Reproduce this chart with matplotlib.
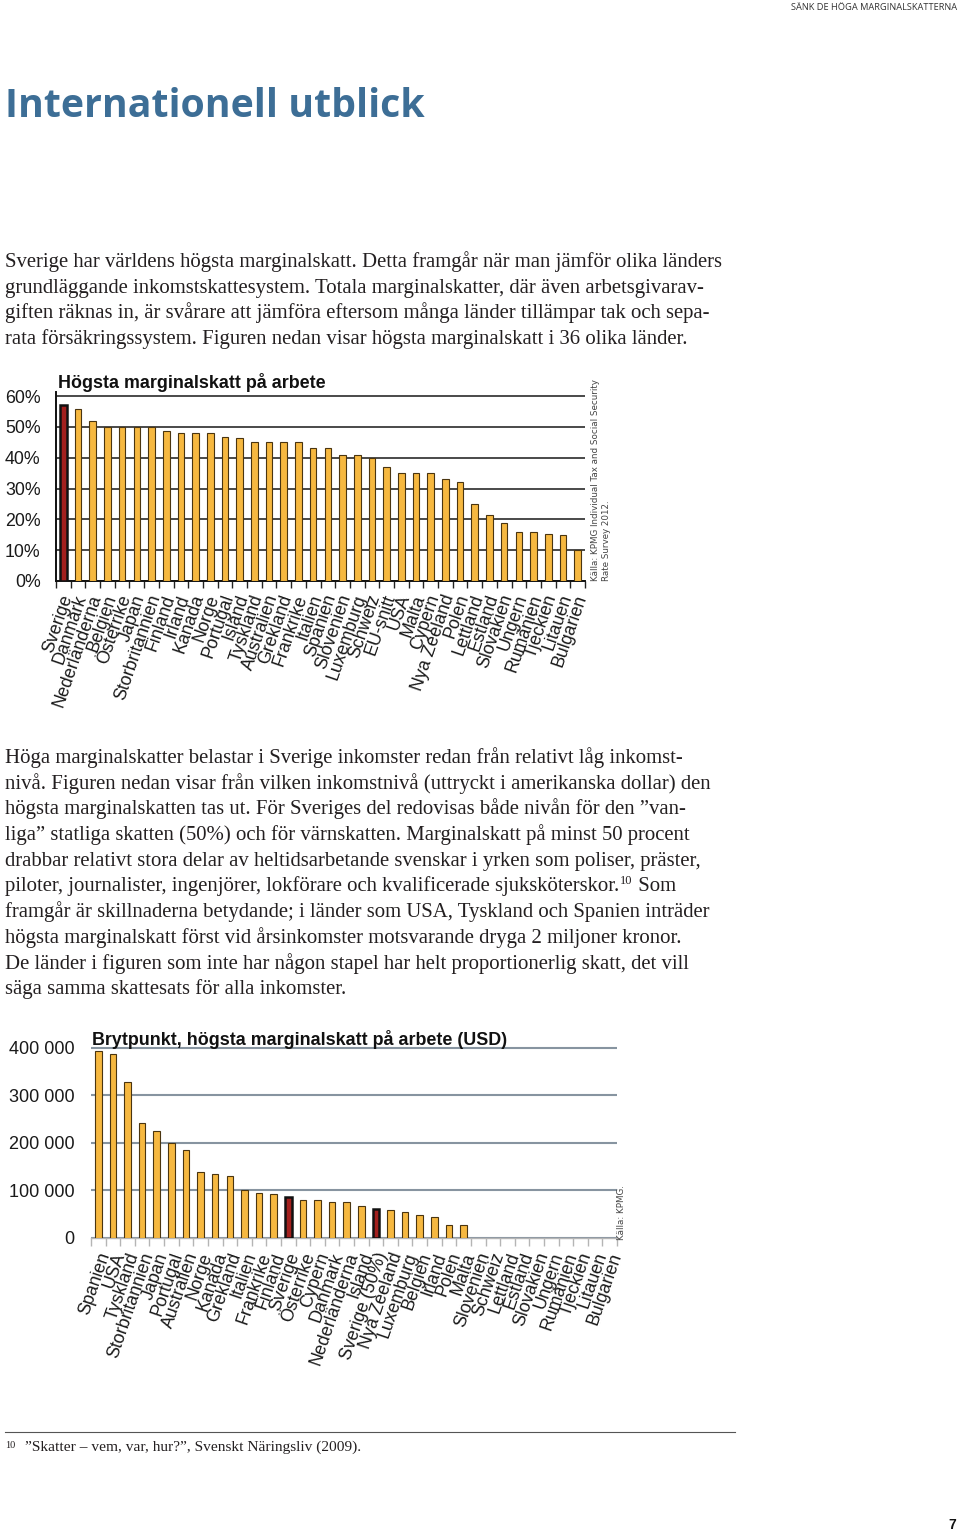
import matplotlib
matplotlib.use("Agg")
import matplotlib.pyplot as plt
import matplotlib.transforms as mtransforms
import numpy as np
from matplotlib.ticker import FixedLocator

# ---------------- data ----------------
top_countries = ["Sverige", "Danmark", "Nederländerna", "Belgien", "Österrike", "Japan",
                 "Storbritannien", "Finland", "Irland", "Kanada", "Norge", "Portugal",
                 "Island", "Tyskland", "Australien", "Grekland", "Frankrike", "Italien",
                 "Spanien", "Slovenien", "Luxemburg", "Schweiz", "EU-snitt", "USA",
                 "Malta", "Cypern", "Nya Zeeland", "Polen", "Lettland", "Estland",
                 "Slovakien", "Ungern", "Rumänien", "Tjeckien", "Litauen", "Bulgarien"]
top_values = [57.0, 55.7, 52.0, 50.0, 50.0, 50.0, 50.0, 48.6, 47.9, 47.9, 47.9, 46.7,
              46.4, 45.0, 45.0, 45.0, 45.0, 43.1, 43.0, 40.9, 41.0, 39.9, 37.1, 35.1,
              35.1, 35.0, 33.0, 32.1, 25.0, 21.3, 18.9, 16.0, 16.0, 15.1, 15.0, 10.0]
top_yticks = [0, 10, 20, 30, 40, 50, 60]

bot_countries = ["Spanien", "USA", "Tyskland", "Storbritannien", "Japan", "Portugal",
                 "Australien", "Norge", "Kanada", "Grekland", "Italien", "Frankrike",
                 "Finland", "Sverige", "Österrike", "Cypern", "Danmark", "Nederländerna",
                 "Island", "Sverige (50%)", "Nya Zeeland", "Luxemburg", "Belgien", "Irland",
                 "Polen", "Malta", "Slovenien", "Schweiz", "Lettland", "Estland",
                 "Slovakien", "Ungern", "Rumänien", "Tjeckien", "Litauen", "Bulgarien"]
bot_values = [393000, 387000, 328000, 241000, 225000, 200000, 185000, 139000, 135000,
              131000, 100000, 95000, 93000, 87000, 79000, 79000, 75000, 75000, 68000,
              61000, 58000, 55000, 48000, 44000, 27000, 27000, 0, 0, 0, 0, 0, 0, 0, 0, 0, 0]
bot_yticks = [0, 100000, 200000, 300000, 400000]
bot_yticklabels = ["0", "100 000", "200 000", "300 000", "400 000"]

highlight_name = "Sverige"

header = "SÄNK DE HÖGA MARGINALSKATTERNA"
title = "Internationell utblick"
para1 = ["Sverige har världens högsta marginalskatt. Detta framgår när man jämför olika länders",
         "grundläggande inkomstskattesystem. Totala marginalskatter, där även arbetsgivarav-",
         "giften räknas in, är svårare att jämföra eftersom många länder tillämpar tak och sepa-",
         "rata försäkringssystem. Figuren nedan visar högsta marginalskatt i 36 olika länder."]
para2 = ["Höga marginalskatter belastar i Sverige inkomster redan från relativt låg inkomst-",
         "nivå. Figuren nedan visar från vilken inkomstnivå (uttryckt i amerikanska dollar) den",
         "högsta marginalskatten tas ut. För Sveriges del redovisas både nivån för den ”van-",
         "liga” statliga skatten (50%) och för värnskatten. Marginalskatt på minst 50 procent",
         "drabbar relativt stora delar av heltidsarbetande svenskar i yrken som poliser, präster,",
         "piloter, journalister, ingenjörer, lokförare och kvalificerade sjuksköterskor.|10| Som",
         "framgår är skillnaderna betydande; i länder som USA, Tyskland och Spanien inträder",
         "högsta marginalskatt först vid årsinkomster motsvarande dryga 2 miljoner kronor.",
         "De länder i figuren som inte har någon stapel har helt proportionerlig skatt, det vill",
         "säga samma skattesats för alla inkomster."]
footnote_no = "10"
footnote = "”Skatter – vem, var, hur?”, Svenskt Näringsliv (2009)."
top_title = "Högsta marginalskatt på arbete"
bot_title = "Brytpunkt, högsta marginalskatt på arbete (USD)"
top_source = "Källa: KPMG Individual Tax and Social Security\nRate Survey 2012."
bot_source = "Källa: KPMG."
page_no = "7"

# ---------------- layout ----------------
W, H = 960, 1532
fig = plt.figure(figsize=(W / 100, H / 100), dpi=100)
fig.patch.set_facecolor("white")
renderer = fig.canvas.get_renderer()

def fx(x):
    return x / W

def fy(y):
    return 1 - y / H

def put(x, y, s, size, **kw):
    return fig.text(fx(x), fy(y), s, fontsize=size, **kw)

def width_px(t):
    return t.get_window_extent(renderer).width

TXT = "#231f20"
SERIF = ["Liberation Serif", "DejaVu Serif"]
SANS = ["Liberation Sans", "DejaVu Sans"]
ORANGE = "#f6b840"
ORANGE_EDGE = "#4a3510"
RED = "#a3201e"

# header
t = put(957, 7, header, 7, family=["Open Sans", "DejaVu Sans"], color="#333333",
        ha="right", va="center")
t.set_fontsize(min(7.5, 7 * 167 / width_px(t)))

# title
t = put(5, 117, title, 30, family=["Open Sans", "DejaVu Sans"], weight="bold",
        color="#3d6e96", ha="left", va="baseline")
t.set_fontsize(30 * 419 / width_px(t))

# paragraph font size fitted on first line
probe = put(5, 267, para1[0], 14, family=SERIF, color=TXT, va="baseline")
fs = 14 * 724 / width_px(probe)
probe.remove()

lh = 25.7
for i, line in enumerate(para1):
    put(5, 267 + i * lh, line, fs, family=SERIF, color=TXT, va="baseline")

for i, line in enumerate(para2):
    y = 763 + i * lh
    if "|" in line:
        a, sup, b = line.split("|")
        ta = put(5, y, a, fs, family=SERIF, color=TXT, va="baseline")
        x2 = 5 + width_px(ta) + 1
        ts = put(x2, y - 7, sup, fs * 0.6, family=SERIF, color=TXT, va="baseline")
        x3 = x2 + width_px(ts)
        put(x3, y, b, fs, family=SERIF, color=TXT, va="baseline")
    else:
        put(5, y, line, fs, family=SERIF, color=TXT, va="baseline")

# footnote
fig.add_artist(plt.Line2D([fx(5), fx(735)], [fy(1432), fy(1432)], color="#555555", lw=0.8))
put(5, 1448, footnote_no, fs * 0.5, family=SERIF, color=TXT, va="baseline")
put(25, 1451, footnote, fs * 0.74, family=SERIF, color=TXT, va="baseline")

# page number
put(952, 1525, page_no, 10, family=SANS, weight="bold", color="#111111", ha="center", va="center")


def style_bars(ax, names, values, lw_norm, lw_hi, lab_size, dx_px, dy_px):
    x = np.arange(len(names))
    vals = np.array(values, dtype=float)
    colors = [RED if n.startswith(highlight_name) else ORANGE for n in names]
    edges = ["#111111" if n.startswith(highlight_name) else ORANGE_EDGE for n in names]
    lws = [lw_hi if n.startswith(highlight_name) else lw_norm for n in names]
    mask = vals > 0
    ax.bar(x[mask], vals[mask], width=0.45, color=np.array(colors)[mask],
           edgecolor=np.array(edges)[mask], linewidth=np.array(lws)[mask], zorder=3)
    ax.set_xlim(-0.5, len(names) - 0.5)
    ax.set_xticks(x)
    ax.set_xticklabels([])
    ax.tick_params(axis="x", which="major", length=0)
    ax.xaxis.set_minor_locator(FixedLocator(np.arange(len(names) + 1) - 0.5))
    base = mtransforms.blended_transform_factory(ax.transData, ax.transAxes)
    off = mtransforms.ScaledTranslation(dx_px / 100, -dy_px / 100, fig.dpi_scale_trans)
    for xi, name in zip(x, names):
        ax.text(xi, 0, name, transform=base + off, rotation=71, ha="right", va="center",
                rotation_mode="anchor", family=SANS, fontsize=lab_size, color="#1a1a1a",
                clip_on=False)


# ---------------- top chart ----------------
ax1 = fig.add_axes([fx(56), fy(581), (585 - 56) / W, (581 - 392) / H])
ax1.set_facecolor("none")
style_bars(ax1, top_countries, top_values, 0.8, 1.8, 12.8, 4, 14)
ax1.set_ylim(0, 61.3)
ax1.set_yticks(top_yticks)
ax1.set_yticklabels([f"{v}%" for v in top_yticks], family=SANS, fontsize=12.8, color="#1a1a1a")
ax1.tick_params(axis="y", length=0, pad=11)
ax1.tick_params(axis="x", which="minor", length=5, color="#222222", width=1)
ax1.yaxis.grid(True, color="#2a2a2a", lw=1.2, zorder=0)
ax1.set_axisbelow(True)
for s in ["top", "right"]:
    ax1.spines[s].set_visible(False)
ax1.spines["left"].set_color("#111111")
ax1.spines["left"].set_linewidth(1.4)
ax1.spines["bottom"].set_color("#111111")
ax1.spines["bottom"].set_linewidth(1.4)
put(58, 388, top_title, 12.9, family=SANS, weight="bold", color="#111111", va="baseline")
put(601, 581, top_source, 6.3, family=["DejaVu Sans"], color="#444444", rotation=90,
    ha="center", va="bottom", multialignment="left", linespacing=1.3)

# ---------------- bottom chart ----------------
ax2 = fig.add_axes([fx(91), fy(1238), (617 - 91) / W, (1238 - 1046) / H])
ax2.set_facecolor("none")
style_bars(ax2, bot_countries, bot_values, 0.8, 1.8, 12.8, 7, 15)
ax2.set_ylim(0, 404000)
ax2.set_yticks(bot_yticks)
ax2.set_yticklabels(bot_yticklabels, family=SANS, fontsize=13, color="#1a1a1a")
ax2.tick_params(axis="y", length=0, pad=12)
ax2.tick_params(axis="x", which="minor", length=6, color="#b5b5b5", width=1)
ax2.yaxis.grid(True, color="#8794a0", lw=1.5, zorder=0)
ax2.set_axisbelow(True)
for s in ["top", "right", "left"]:
    ax2.spines[s].set_visible(False)
ax2.spines["bottom"].set_color("#b5b5b5")
ax2.spines["bottom"].set_linewidth(1.0)
put(92, 1045, bot_title, 12.9, family=SANS, weight="bold", color="#111111", va="baseline")
put(621, 1240, bot_source, 6.3, family=["DejaVu Sans"], color="#444444", rotation=90,
    ha="center", va="bottom")

fig.savefig("out.png", dpi=100, facecolor="white")
